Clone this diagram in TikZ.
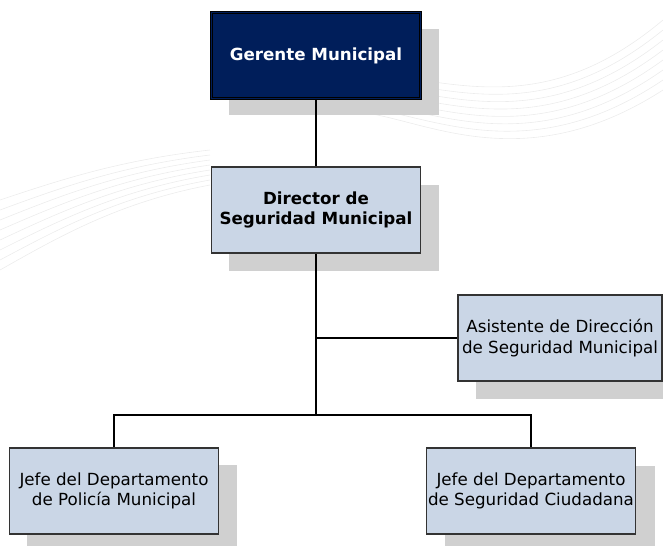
\documentclass[tikz,border=0pt]{standalone}
\usepackage{fontspec}
\setmainfont{DejaVu Sans}
\definecolor{navy}{HTML}{001E5A}
\definecolor{boxfill}{HTML}{CAD6E6}
\definecolor{shadowc}{HTML}{D0D0D0}
\definecolor{edge}{HTML}{333333}
\definecolor{bgline}{HTML}{ECECEC}
\begin{document}
\begin{tikzpicture}[x=1pt,y=-1pt,
  orgbox/.style={draw=edge,line width=1.6pt,fill=boxfill,minimum width=209pt,minimum height=86pt,
    align=center,font=\fontsize{16.7}{20.5}\selectfont,inner sep=0pt},
  topbox/.style={orgbox,fill=navy,draw=black,double=navy,double distance=1.2pt,line width=1pt,text=white,font=\bfseries\fontsize{16.7}{20.5}\selectfont},
  boldbox/.style={orgbox,font=\bfseries\fontsize{16.7}{20.5}\selectfont},
  shadow/.style={fill=shadowc},
  conn/.style={draw=black,line width=1.1pt}]
\useasboundingbox (0,0) rectangle (663,546);
% faint background lines
\foreach \k in {0,...,7}{
  \draw[bgline,line width=0.6pt] (300+\k*8,70+\k*6) .. controls (420,60+\k*8) and (520,140+\k*6) .. (663,20+\k*10);
  \draw[bgline,line width=0.6pt] (0,200+\k*10) .. controls (60,180+\k*8) and (120,160+\k*6) .. (210,150+\k*5);
}
% shadows
\fill[shadow] (229,29) rectangle (439,115);
\fill[shadow] (229,185) rectangle (439,271);
\fill[shadow] (476,313) rectangle (663,399);
\fill[shadow] (27,465) rectangle (237,546);
\fill[shadow] (445,466) rectangle (655,546);
% nodes
\node[topbox] (gm) at (316,55.5) {Gerente Municipal};
\node[boldbox] (dir) at (316,210) {Director de\\Seguridad Municipal};
\node[orgbox,minimum width=204pt] (asis) at (560,338) {Asistente de Dirección\\de Seguridad Municipal};
\node[orgbox] (pol) at (114,491) {Jefe del Departamento\\de Policía Municipal};
\node[orgbox] (ciu) at (531,491) {Jefe del Departamento\\de Seguridad Ciudadana};
% connectors
\coordinate (j1) at (316,338);
\coordinate (j2) at (316,415);
\draw[conn] (gm.south) -- (dir.north);
\draw[conn] (dir.south) -- (j2);
\draw[conn] (j1) -- (asis.west);
\draw[conn] (j2) -| (pol.north);
\draw[conn] (j2) -| (ciu.north);
\end{tikzpicture}
\end{document}
